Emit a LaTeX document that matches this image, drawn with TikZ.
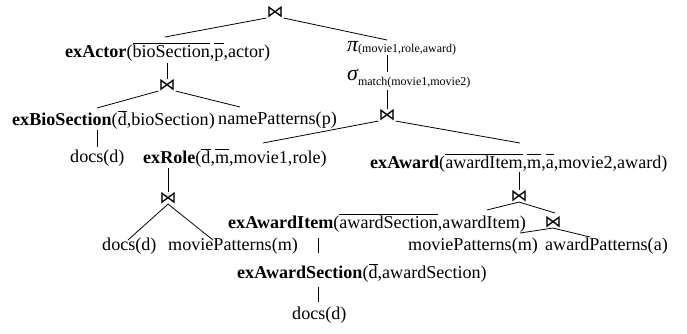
\documentclass[tikz,border=0pt]{standalone}
\usepackage{fontspec}
\setmainfont{Liberation Serif}
\newfontfamily\symf{DejaVu Sans}
\usetikzlibrary{calc}
\newcommand\ovl[1]{$\overline{\hbox{\vphantom{d}#1}}$}
\begin{document}
\begin{tikzpicture}[x=1pt,y=-1pt,
  lbl/.style={inner sep=0pt, anchor=west, font=\fontsize{18.1}{20}\selectfont},
  jn/.style={inner sep=0pt, font=\symf\fontsize{17}{17}\selectfont},
  conn/.style={draw=black, line width=0.8pt}]
\useasboundingbox[fill=white] (0,0) rectangle (687,333);
% join nodes
\node[jn] (j0) at (275,12) {⋈};
\node[jn] (j1) at (167,85) {⋈};
\node[jn] (j3) at (387,115) {⋈};
\node[jn] (j2) at (168,198) {⋈};
\node[jn] (j4) at (519,196) {⋈};
\node[jn] (j5) at (553,222) {⋈};
% text nodes
\node[lbl] (actor) at (65,52) {\textbf{exActor}(\ovl{bioSection},\ovl{p},actor)};
\node[lbl] (pi) at (347,48) {{\itshape\fontsize{22}{22}\selectfont π}\raisebox{-1pt}{\fontsize{12}{14}\selectfont(movie1,role,award)}};
\node[lbl] (sigma) at (347,79) {{\itshape\fontsize{22}{22}\selectfont σ}\raisebox{-5pt}{\fontsize{12}{14}\selectfont match(movie1,movie2)}};
\node[lbl] (bio) at (12,120) {\textbf{exBioSection}(\ovl{d},bioSection)};
\node[lbl] (namep) at (218,120) {namePatterns(p)};
\node[lbl] (docsA) at (70,158) {docs(d)};
\node[lbl] (role) at (143,158) {\textbf{exRole}(\ovl{d},\ovl{m},movie1,role)};
\node[lbl] (award) at (370,163) {\textbf{exAward}(\ovl{awardItem},\ovl{m},\ovl{a},movie2,award)};
\node[lbl] (awItem) at (228,223) {\textbf{exAwardItem}(\ovl{awardSection},awardItem)};
\node[lbl] (docsB) at (102,246) {docs(d)};
\node[lbl] (mpA) at (168,246) {moviePatterns(m)};
\node[lbl] (mpB) at (408,246) {moviePatterns(m)};
\node[lbl] (apat) at (545,246) {awardPatterns(a)};
\node[lbl] (awSec) at (237,273) {\textbf{exAwardSection}(\ovl{d},awardSection)};
\node[lbl] (docsC) at (292,315) {docs(d)};
% free ends of connectors
\coordinate (e0l) at (165,37);
\coordinate (e0r) at (387,40);
\coordinate (e1l) at (97,108);
\coordinate (e1r) at (240,107);
\coordinate (e3l) at (263,143);
\coordinate (e3r) at (520,143);
\coordinate (e2l) at (128,240);
\coordinate (e2r) at (213,240);
\coordinate (e4l) at (487,210);
\coordinate (e4r) at (555,213);
\coordinate (e5l) at (520,233);
\coordinate (e5r) at (590,237);
% connectors
\draw[conn] (j0.south west) -- (e0l);
\draw[conn] (j0.south east) -- (e0r);
\draw[conn] (167,63) -- (j1.north);
\draw[conn] (j1.south west) -- (e1l);
\draw[conn] (j1.south east) -- (e1r);
\draw[conn] (97,130) -- (97,147);
\draw[conn] (387,55) -- (387,72);
\draw[conn] (387,90) -- (j3.north);
\draw[conn] (j3.south west) -- (e3l);
\draw[conn] (j3.south east) -- (e3r);
\draw[conn] (168,168) -- (j2.north);
\draw[conn] (j2.south) -- (e2l);
\draw[conn] (j2.south) -- (e2r);
\draw[conn] (519,172) -- (j4.north);
\draw[conn] (j4.south) -- (e4l);
\draw[conn] (j4.south) -- (e4r);
\draw[conn] (j5.south) -- (e5l);
\draw[conn] (j5.south) -- (e5r);
\draw[conn] (318,238) -- (318,253);
\draw[conn] (318,287) -- (318,302);
\end{tikzpicture}
\end{document}
